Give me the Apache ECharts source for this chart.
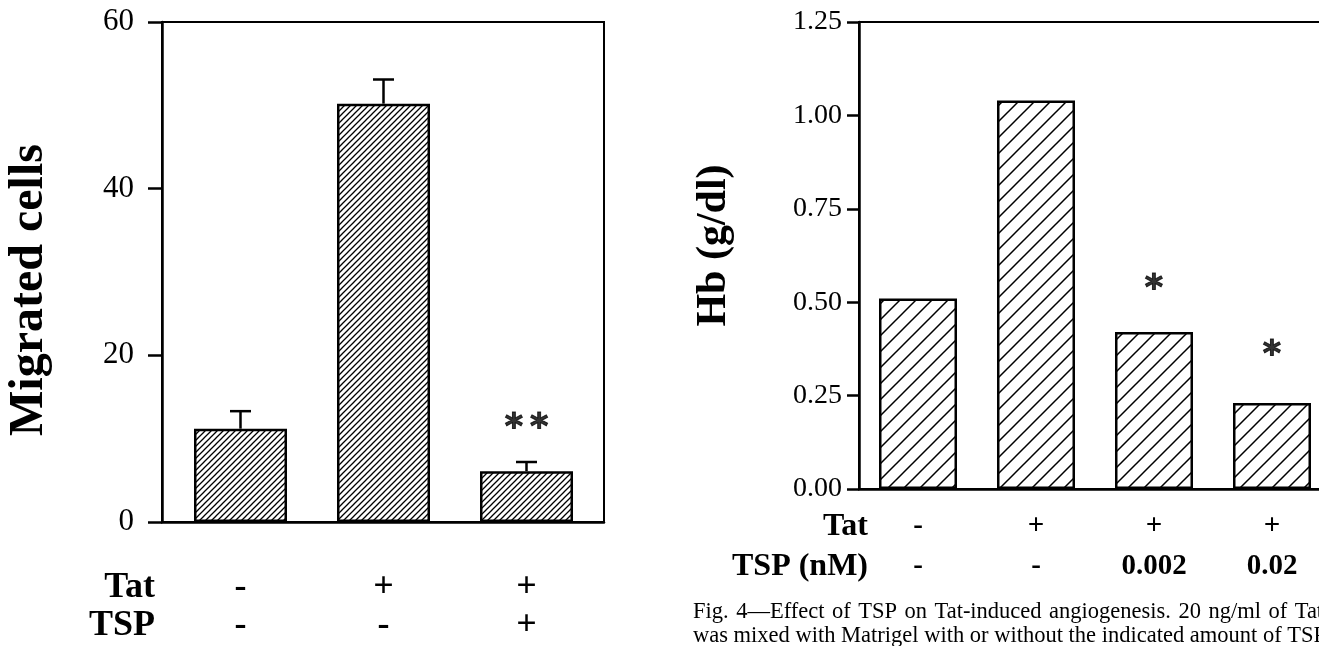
<!DOCTYPE html>
<html>
<head>
<meta charset="utf-8">
<script src="https://cdn.jsdelivr.net/npm/echarts@6/dist/echarts.min.js"></script>
<style>
  html, body { margin: 0; padding: 0; background: #fff; }
  #chart { width: 1319px; height: 646px; }
</style>
</head>
<body>
<div id="chart"></div>
<script>
// left panel: migration assay
const migGroups = ['g1', 'g2', 'g3']
const migTat = ['-', '+', '+']
const migTsp = ['-', '-', '+']
const migCells = [11.2, 50.2, 6.1]
const migSem = [2.1, 2.9, 1.1]
const migStars = [null, null, '*\u2009*']
const migStarY = [null, null, 11.2]

// right panel: Matrigel Hb content
const hbGroups = ['h1', 'h2', 'h3', 'h4']
const hbTat = ['-', '+', '+', '+']
const hbTsp = ['-', '-', '0.002', '0.02']
const hbValues = [0.51, 1.04, 0.42, 0.23]
const hbStars = [null, null, '*', '*']
const hbStarY = [null, null, 0.533, 0.356]

const SERIF = 'Liberation Serif'

// diagonal hatch pattern "/"
function hatch (size, lw) {
  const c = document.createElement('canvas')
  c.width = size
  c.height = size
  const g = c.getContext('2d')
  g.fillStyle = '#fff'
  g.fillRect(0, 0, size, size)
  g.strokeStyle = '#000'
  g.lineWidth = lw
  g.beginPath()
  g.moveTo(-1, size + 1); g.lineTo(size + 1, -1)
  g.moveTo(-1, 1); g.lineTo(1, -1)
  g.moveTo(size - 1, size + 1); g.lineTo(size + 1, size - 1)
  g.stroke()
  return c
}

function errorBars (half, lw) {
  return function (params, api) {
    const a = api.coord([api.value(0), api.value(1)])
    const b = api.coord([api.value(0), api.value(2)])
    const st = { stroke: '#000', lineWidth: lw }
    return {
      type: 'group',
      children: [
        { type: 'line', shape: { x1: a[0], y1: a[1], x2: b[0], y2: b[1] }, style: st },
        { type: 'line', shape: { x1: b[0] - half, y1: b[1], x2: b[0] + half, y2: b[1] }, style: st }
      ]
    }
  }
}

function starData (ys, labels) {
  const out = []
  ys.forEach((y, i) => {
    if (y != null) out.push({ value: [i, y], label: { formatter: labels[i] } })
  })
  return out
}

const starLabel = {
  show: true,
  position: 'inside',
  fontFamily: 'DejaVu Sans',
  fontWeight: 'bold',
  fontSize: 35,
  color: '#000',
  textBorderColor: '#000',
  textBorderWidth: 1
}

// caption, first line is justified in the figure (wider word gaps)
const caption1 = 'Fig. 4\u2014Effect of TSP on Tat-induced angiogenesis. 20 ng/ml of Tat'.replace(/ /g, '\u2004')
const caption2 = 'was mixed with Matrigel with or without the indicated amount of TSP'

const chart = echarts.init(document.getElementById('chart'), null, { renderer: 'canvas' })

chart.setOption({
  backgroundColor: '#fff',
  animation: false,
  grid: [
    // 0: left frame + y axis
    { left: 162, top: 22, width: 442, height: 500, show: true, borderColor: '#000', borderWidth: 2, backgroundColor: 'transparent', outerBoundsMode: 'none' },
    // 1: right panel (runs past the right edge of the page)
    { left: 859, top: 22, width: 472, height: 467, show: true, borderColor: '#000', borderWidth: 2, backgroundColor: 'transparent', outerBoundsMode: 'none' },
    // 2: left bars (narrower band so bars sit where they do in the figure)
    { left: 169, top: 22, width: 429, height: 500, show: false, outerBoundsMode: 'none' }
  ],
  xAxis: [
    {
      type: 'value',
      gridIndex: 0,
      min: 0,
      max: 1,
      axisLine: { show: true, onZero: false, lineStyle: { color: '#000', width: 2.5 } },
      axisTick: { show: false },
      axisLabel: { show: false },
      splitLine: { show: false }
    },
    {
      type: 'category',
      gridIndex: 1,
      data: hbGroups,
      axisLine: { lineStyle: { color: '#000', width: 2.5 } },
      axisTick: { show: false },
      axisLabel: {
        interval: 0,
        margin: 18,
        formatter: (v, i) => '{a|' + hbTat[i] + '}\n{a|' + hbTsp[i] + '}',
        rich: { a: { fontFamily: SERIF, fontWeight: 'bold', fontSize: 29, lineHeight: 40, color: '#000' } }
      }
    },
    {
      type: 'category',
      gridIndex: 2,
      data: migGroups,
      axisLine: { show: false },
      axisTick: { show: false },
      axisLabel: {
        interval: 0,
        margin: 47,
        formatter: (v, i) => '{a|' + migTat[i] + '}\n{a|' + migTsp[i] + '}',
        rich: { a: { fontFamily: SERIF, fontWeight: 'bold', fontSize: 36, lineHeight: 38, color: '#000' } }
      }
    }
  ],
  yAxis: [
    {
      type: 'value',
      gridIndex: 0,
      min: 0,
      max: 60,
      interval: 20,
      name: 'Migrated cells',
      nameLocation: 'middle',
      nameRotate: 90,
      nameGap: 108,
      nameTextStyle: { fontFamily: SERIF, fontWeight: 'bold', fontSize: 48, color: '#000', padding: [0, 36, 0, 0] },
      axisLine: { show: true, lineStyle: { color: '#000', width: 2.5 } },
      axisTick: { show: true, length: 14, lineStyle: { color: '#000', width: 2.5 } },
      axisLabel: { margin: 28, fontFamily: SERIF, fontSize: 31, color: '#000' },
      splitLine: { show: false }
    },
    {
      type: 'value',
      gridIndex: 1,
      min: 0,
      max: 1.25,
      interval: 0.25,
      name: 'Hb (g/dl)',
      nameLocation: 'middle',
      nameRotate: 90,
      nameGap: 124,
      nameTextStyle: { fontFamily: SERIF, fontWeight: 'bold', fontSize: 42, color: '#000', padding: [0, 0, 0, 20] },
      axisLine: { show: true, lineStyle: { color: '#000', width: 2.5 } },
      axisTick: { show: true, length: 12, lineStyle: { color: '#000', width: 2.5 } },
      axisLabel: { margin: 17, fontFamily: SERIF, fontSize: 28, color: '#000', formatter: v => v.toFixed(2) },
      splitLine: { show: false }
    },
    {
      type: 'value',
      gridIndex: 2,
      min: 0,
      max: 60,
      interval: 20,
      show: false
    }
  ],
  series: [
    {
      name: 'Migrated cells',
      type: 'bar',
      xAxisIndex: 2,
      yAxisIndex: 2,
      barWidth: 93,
      data: migCells,
      itemStyle: { color: { image: hatch(6, 1.3), repeat: 'repeat' }, borderColor: '#000', borderWidth: 2.5 },
      z: 3
    },
    {
      name: 'SEM',
      type: 'custom',
      xAxisIndex: 2,
      yAxisIndex: 2,
      renderItem: errorBars(10.5, 2.5),
      data: migCells.map((v, i) => [i, v, v + migSem[i]]),
      z: 2
    },
    {
      name: 'sig left',
      type: 'scatter',
      xAxisIndex: 2,
      yAxisIndex: 2,
      symbolSize: 1,
      itemStyle: { color: 'rgba(0,0,0,0)' },
      label: starLabel,
      data: starData(migStarY, migStars)
    },
    {
      name: 'Hb',
      type: 'bar',
      xAxisIndex: 1,
      yAxisIndex: 1,
      barWidth: 78,
      data: hbValues,
      itemStyle: { color: { image: hatch(16, 1.5), repeat: 'repeat' }, borderColor: '#000', borderWidth: 2.5 },
      z: 3
    },
    {
      name: 'sig right',
      type: 'scatter',
      xAxisIndex: 1,
      yAxisIndex: 1,
      symbolSize: 1,
      itemStyle: { color: 'rgba(0,0,0,0)' },
      label: starLabel,
      data: starData(hbStarY, hbStars)
    }
  ],
  graphic: [
    { type: 'text', x: 155, y: 588, style: { text: 'Tat', fontFamily: SERIF, fontWeight: 'bold', fontSize: 36, fill: '#000', align: 'right', verticalAlign: 'middle' } },
    { type: 'text', x: 155, y: 626, style: { text: 'TSP', fontFamily: SERIF, fontWeight: 'bold', fontSize: 36, fill: '#000', align: 'right', verticalAlign: 'middle' } },
    { type: 'text', x: 868, y: 527, style: { text: 'Tat', fontFamily: SERIF, fontWeight: 'bold', fontSize: 32, fill: '#000', align: 'right', verticalAlign: 'middle' } },
    { type: 'text', x: 868, y: 567, style: { text: 'TSP (nM)', fontFamily: SERIF, fontWeight: 'bold', fontSize: 32, fill: '#000', align: 'right', verticalAlign: 'middle' } },
    { type: 'text', x: 693, y: 612, style: { text: caption1, fontFamily: SERIF, fontSize: 22.5, fill: '#000', align: 'left', verticalAlign: 'middle' } },
    { type: 'text', x: 693, y: 636, style: { text: caption2, fontFamily: SERIF, fontSize: 22.5, fill: '#000', align: 'left', verticalAlign: 'middle' } }
  ]
})
</script>
</body>
</html>
